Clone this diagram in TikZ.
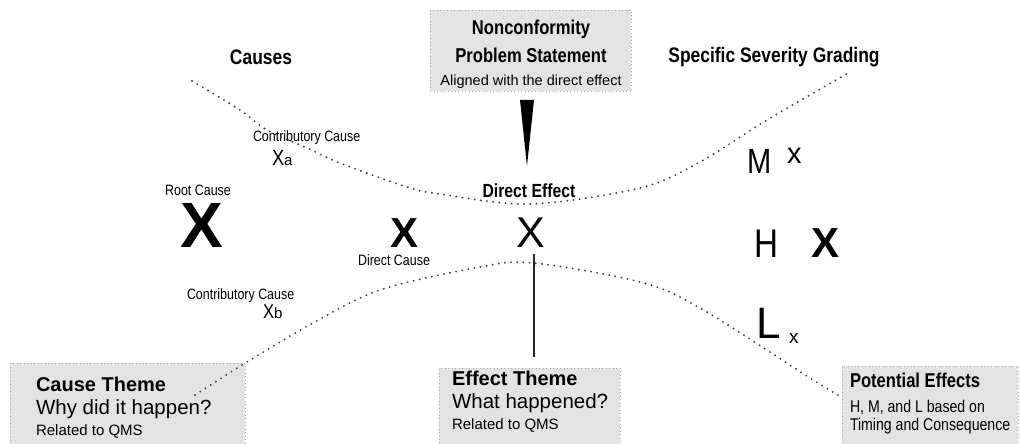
\documentclass[tikz,border=0pt]{standalone}
\usepackage{fontspec}
\setmainfont{Liberation Sans}
\newfontfamily\narrowfont{Liberation Sans}[FakeStretch=0.83]
\newcommand\fsz[1]{\fontsize{#1}{#1}\selectfont}
\begin{document}
\begin{tikzpicture}[x=1pt,y=-1pt,
  txt/.style={inner sep=0pt, outer sep=0pt},
  panel/.style={draw=black!35, fill=black!11, line width=0.9pt,
    dash pattern=on 0.9pt off 2.6pt, inner sep=0pt, anchor=north west},
  trace/.style={draw=black!75, line width=2.1pt, line cap=round,
    dash pattern=on 0pt off 6.2pt},
  head/.style={txt, font=\narrowfont\bfseries\fsz{21}},
  lbl/.style={txt, font=\narrowfont\fsz{15}},
  ttl/.style={txt, anchor=base west, font=\bfseries\fsz{20}},
  sub/.style={txt, anchor=base west, font=\fsz{20.5}},
  note/.style={txt, anchor=base west, font=\fsz{15}},
]
\useasboundingbox (0,0) rectangle (1021,444);

% ---- panels ----
\node[panel, minimum width=201pt, minimum height=81pt] (nc) at (430,10) {};
\node[panel, minimum width=235pt, minimum height=90pt] (ct) at (10,363) {};
\node[panel, minimum width=181pt, minimum height=85pt] (et) at (439,368) {};
\node[panel, minimum width=176pt, minimum height=88pt] (pe) at (842,366) {};

% ---- problem statement ----
\node[txt, anchor=base, font=\narrowfont\bfseries\fsz{20}] (nc1) at (531,35) {Nonconformity};
\node[txt, anchor=base, font=\narrowfont\bfseries\fsz{20}] (nc2) at (531,63) {Problem Statement};
\node[txt, anchor=base, font=\fsz{14.5}] (nc3) at (531,86) {Aligned with the direct effect};

% wedge pointing down to the direct effect
\coordinate (wl) at (520,100);
\coordinate (wr) at (534,100);
\coordinate (wt) at (527,166);
\fill[black] (wl) -- (wr) -- (wt) -- cycle;

% ---- headings ----
\node[head, anchor=base] (causes) at (261,65) {Causes};
\node[head, anchor=base] (ssg) at (774,63) {Specific Severity Grading};

% ---- causes ----
\node[lbl, anchor=base west] (cca) at (253,142) {Contributory Cause};
\node[txt, anchor=base west] (xa) at (272,165)
  {{\narrowfont\fsz{22}X}{\fsz{15}a}};
\node[lbl, anchor=base] (rcl) at (198,195) {Root Cause};
\node[txt, anchor=base, font=\bfseries\fsz{64}] (rc) at (202,247) {X};
\node[txt, anchor=base, font=\bfseries\fsz{42}] (dc) at (405,247) {X};
\node[lbl, anchor=base] (dcl) at (394,265) {Direct Cause};
\node[lbl, anchor=base west] (ccb) at (187,299) {Contributory Cause};
\node[txt, anchor=base west] (xb) at (263,318)
  {{\narrowfont\fsz{20}X}{\fsz{15}b}};

% ---- direct effect ----
\node[head, anchor=base, font=\narrowfont\bfseries\fsz{19}] (del) at (529,197) {Direct Effect};
\node[txt, anchor=base, font=\fsz{43}] (de) at (531,247) {X};
\coordinate (stemtop) at (534,254);
\coordinate (stembot) at (534,357);
\draw[black!85, line width=1.4pt] (stemtop) -- (stembot);

% ---- severity grading ----
\node[txt, anchor=base west, font=\narrowfont\fsz{35}] (gm) at (747,173) {M};
\node[txt, anchor=base west, font=\fsz{29}] (gmx) at (787,164) {x};
\node[txt, anchor=base west, font=\narrowfont\fsz{40}] (gh) at (754,257) {H};
\node[txt, anchor=base, font=\bfseries\fsz{42}] (ghx) at (825,257) {X};
\node[txt, anchor=base west, font=\fsz{44}] (gl) at (756,338) {L};
\node[txt, anchor=base west, font=\fsz{19}] (glx) at (789,343) {x};

% ---- boundary traces ----
\draw[trace] plot[smooth, tension=0.55] coordinates {
  (192,81) (240,110) (267,130) (307,148) (340,163) (407,187)
  (440,194) (530,204) (640,188) (700,162) (767,120) (850,72)};
\draw[trace] plot[smooth, tension=0.55] coordinates {
  (195,395) (247,362) (313,323) (380,290) (480,267) (533,263)
  (640,282) (700,308) (810,378) (843,398)};

% ---- theme panel texts ----
\node[ttl] (ct1) at (36,391) {Cause Theme};
\node[sub] (ct2) at (36,414) {Why did it happen?};
\node[note] (ct3) at (36,435) {Related to QMS};

\node[ttl] (et1) at (452,385) {Effect Theme};
\node[sub] (et2) at (452,408) {What happened?};
\node[note] (et3) at (452,429) {Related to QMS};

\node[ttl, font=\narrowfont\bfseries\fsz{20}] (pe1) at (850,387) {Potential Effects};
\node[note, font=\narrowfont\fsz{17}] (pe2) at (850,412) {H, M, and L based on};
\node[note, font=\narrowfont\fsz{17}] (pe3) at (850,430) {Timing and Consequence};
\end{tikzpicture}
\end{document}
